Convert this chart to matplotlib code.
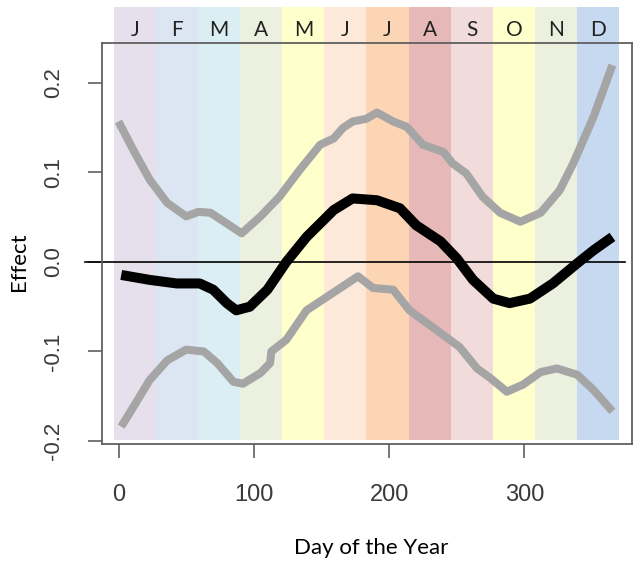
import matplotlib
matplotlib.use("Agg")
import matplotlib.pyplot as plt
from matplotlib.patches import Rectangle

months = ["J", "F", "M", "A", "M", "J", "J", "A", "S", "O", "N", "D"]
month_colors = ["#E5E0EC", "#DCE6F2", "#DAEEF3", "#EBF1DE", "#FFFFCC", "#FDE9D9",
                "#FCD5B5", "#E6B9B8", "#F2DCDB", "#FFFFCC", "#EBF1DE", "#C6D9F1"]

upper_day = [0, 11, 23, 36, 50, 59, 68, 80, 91, 105, 119, 134, 149, 159, 166, 173, 183, 191,
             203, 213, 225, 240, 247, 257, 269, 282, 297, 312, 326, 336, 351, 365]
upper_val = [0.157, 0.125, 0.092, 0.066, 0.051, 0.056, 0.055, 0.043, 0.032, 0.051, 0.073, 0.103,
             0.131, 0.138, 0.150, 0.157, 0.160, 0.167, 0.157, 0.151, 0.131, 0.123, 0.110, 0.099,
             0.073, 0.055, 0.045, 0.055, 0.080, 0.110, 0.162, 0.220]

mean_day = [2, 23, 43, 60, 70, 80, 87, 97, 110, 124, 139, 159, 173, 191, 208, 220, 238, 250,
            262, 277, 289, 304, 321, 339, 351, 365]
mean_val = [-0.0145, -0.020, -0.024, -0.024, -0.031, -0.046, -0.054, -0.050, -0.031, 0.000,
            0.028, 0.058, 0.071, 0.069, 0.060, 0.041, 0.023, 0.004, -0.020, -0.041, -0.046,
            -0.041, -0.024, -0.0015, 0.013, 0.028]

lower_day = [2, 11, 23, 36, 50, 63, 73, 85, 92, 105, 112, 113, 124, 139, 154, 169, 177, 188,
             203, 215, 235, 252, 265, 275, 287, 299, 312, 324, 339, 351, 365]
lower_val = [-0.184, -0.162, -0.132, -0.110, -0.098, -0.100, -0.113, -0.134, -0.136, -0.124,
             -0.113, -0.100, -0.087, -0.054, -0.039, -0.024, -0.016, -0.029, -0.031, -0.054,
             -0.076, -0.095, -0.119, -0.130, -0.145, -0.137, -0.123, -0.119, -0.126, -0.143,
             -0.167]

x_ticks = [0, 100, 200, 300]
y_ticks = [-0.2, -0.1, 0.0, 0.1, 0.2]
y_tick_labels = ["-0.2", "-0.1", "0.0", "0.1", "0.2"]

fig = plt.figure(figsize=(6.41, 5.63), dpi=100)
ax = fig.add_axes([0.1587, 0.2114, 0.8273, 0.7122])
ax.set_xlim(-12.4, 379.5)
ax.set_ylim(-0.2034, 0.2447)

# month bands
band_start = -3.5
band_w = (370.0 - band_start) / 12
y_bot, y_top = -0.1989, 0.285
for i, (m, c) in enumerate(zip(months, month_colors)):
    x0 = band_start + i * band_w
    ax.add_patch(Rectangle((x0, y_bot), band_w, y_top - y_bot, facecolor=c,
                           edgecolor="none", clip_on=False, zorder=0))
    ax.text(x0 + band_w / 2, 0.259, m, ha="center", va="center", fontsize=15,
            family="Lato", color="#222222", clip_on=False)

ax.plot([-25, 374], [0, 0], color="black", lw=1.2, clip_on=False, zorder=2)
ax.plot(upper_day, upper_val, color="#A5A5A5", lw=5.8, solid_capstyle="butt",
        solid_joinstyle="round", zorder=3)
ax.plot(lower_day, lower_val, color="#A5A5A5", lw=5.8, solid_capstyle="butt",
        solid_joinstyle="round", zorder=3)
ax.plot(mean_day, mean_val, color="black", lw=7.2, solid_capstyle="butt",
        solid_joinstyle="round", zorder=4)

for s in ax.spines.values():
    s.set_color("#606060")
    s.set_linewidth(1.3)

tick_font = {"family": "Liberation Sans", "color": "#3a3a3a"}
ax.set_xticks(x_ticks)
ax.set_xticklabels([str(t) for t in x_ticks], fontdict=dict(tick_font, size=17))
ax.set_yticks(y_ticks)
ax.set_yticklabels(y_tick_labels, fontdict=dict(tick_font, size=16), rotation=90,
                   va="center")
ax.tick_params(axis="both", length=10, width=1.2, color="#606060")
ax.tick_params(axis="x", pad=19)
ax.tick_params(axis="y", pad=17)

fig.text(371 / 641, 1 - 548 / 563, "Day of the Year", ha="center", va="center",
         fontsize=16, family="Lato", color="black")
fig.text(19 / 641, 1 - 262 / 563, "Effect", ha="center", va="center", rotation=90,
         fontsize=16, family="Lato", color="black")

fig.savefig("out.png", dpi=100)
